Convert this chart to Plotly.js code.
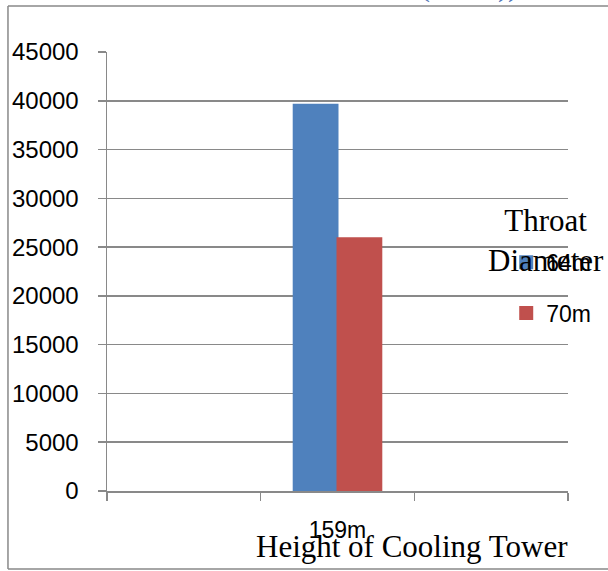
<!DOCTYPE html>
<html>
<head>
<meta charset="utf-8">
<script src="https://cdn.plot.ly/plotly-3.0.1.min.js"></script>
<style>html,body{margin:0;padding:0;background:#fff;}#chart{width:608px;height:571px;}</style>
</head>
<body>
<div id="chart"></div>
<script>
// Data
const categories = [" ", "159m", "  "];
const seriesNames = ["64m", "70m"];
const values64m = [null, 39600, null];
const values70m = [null, 25900, null];
const seriesColors = ["#4F81BD", "#C0504D"];
const yTickValues = [0, 5000, 10000, 15000, 20000, 25000, 30000, 35000, 40000, 45000];
const yTickLabels = ["0", "5000", "10000", "15000", "20000", "25000", "30000", "35000", "40000", "45000"];
const xTitleText = "Height of Cooling Tower";
const legendTitleText = "Throat<br>Diameter";

const sans = "'Liberation Sans', Arial, sans-serif";
const serif = "'Liberation Serif', 'Times New Roman', serif";
const gray = "#898989";

const traces = [
  {type: "bar", x: categories, y: values64m, name: seriesNames[0], legendgroup: "a",
   marker: {color: seriesColors[0], line: {color: seriesColors[0], width: 2}}, hoverinfo: "none"},
  {type: "bar", x: categories, y: values70m, name: seriesNames[1], legendgroup: "b",
   marker: {color: seriesColors[1], line: {color: seriesColors[1], width: 2}}, hoverinfo: "none"}
];

const layout = {
  width: 608, height: 571,
  margin: {l: 107, r: 40, t: 52, b: 80},
  paper_bgcolor: "#ffffff", plot_bgcolor: "#ffffff",
  barmode: "group", bargap: 0.43, bargroupgap: 0,
  font: {family: sans, size: 23, color: "#000"},
  xaxis: {
    type: "category", categoryorder: "array", categoryarray: categories,
    range: [-0.5, 2.5], tickson: "boundaries",
    showgrid: false, showline: true, linecolor: gray, linewidth: 1.5,
    ticks: "outside", ticklen: 8, tickcolor: gray, tickwidth: 1.5,
    ticklabelstandoff: 18,
    tickfont: {family: sans, size: 23, color: "#000"},
    fixedrange: true
  },
  yaxis: {
    range: [0, 45000], tickmode: "array", tickvals: yTickValues, ticktext: yTickLabels,
    showgrid: true, gridcolor: gray, gridwidth: 1.5,
    showline: true, linecolor: gray, linewidth: 1.5,
    ticks: "outside", ticklen: 8, tickcolor: gray, tickwidth: 1.5,
    ticklabelstandoff: 14,
    tickfont: {family: sans, size: 24, color: "#000"},
    zeroline: false, fixedrange: true
  },
  showlegend: true,
  legend: {
    x: 0.866, y: 0.570, xanchor: "left", yanchor: "top",
    bgcolor: "rgba(0,0,0,0)", font: {family: sans, size: 23, color: "#000"},
    traceorder: "grouped", tracegroupgap: 18
  },
  annotations: [
    {text: xTitleText, xref: "paper", yref: "paper", x: 0.6616, y: -0.1253,
     xanchor: "center", yanchor: "middle", showarrow: false,
     font: {family: serif, size: 31, color: "#000"}},
    {text: legendTitleText, xref: "paper", yref: "paper", x: 0.952, y: 0.5695,
     xanchor: "center", yanchor: "middle", showarrow: false, align: "center",
     font: {family: serif, size: 31, color: "#000"}},
    {text: "(", xref: "paper", yref: "paper", x: (425 - 107) / 461, y: 1.1065,
     xanchor: "center", yanchor: "bottom", showarrow: false,
     font: {family: serif, size: 30, color: "#4a6fb5"}},
    {text: "))", xref: "paper", yref: "paper", x: (508 - 107) / 461, y: 1.1065,
     xanchor: "center", yanchor: "bottom", showarrow: false,
     font: {family: serif, size: 30, color: "#4a6fb5"}}
  ],
  shapes: [
    {type: "line", xref: "paper", yref: "paper", x0: -0.2148, x1: 1.1, y0: 1.1048, y1: 1.1048,
     line: {color: gray, width: 1.5}},
    {type: "line", xref: "paper", yref: "paper", x0: -0.2148, x1: -0.2148, y0: 1.1048, y1: -0.1777,
     line: {color: gray, width: 1.5}},
    {type: "line", xref: "paper", yref: "paper", x0: -0.2148, x1: 1.1, y0: -0.1777, y1: -0.1777,
     line: {color: gray, width: 1.5}}
  ]
};

Plotly.newPlot("chart", traces, layout, {staticPlot: true, displayModeBar: false});
</script>
</body>
</html>
